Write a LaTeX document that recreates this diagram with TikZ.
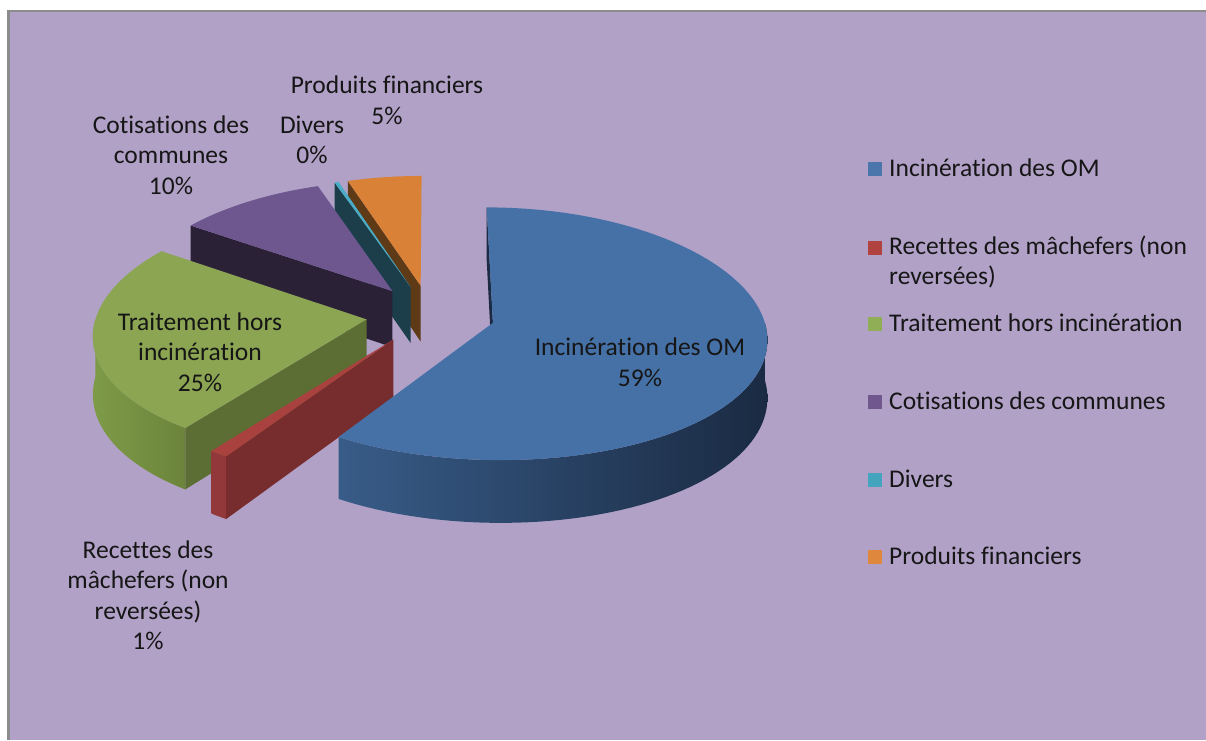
\documentclass[tikz,border=0pt]{standalone}
\usepackage{fontspec}
\setmainfont{Carlito}
\newcommand{\nk}{\kern0pt}% breaks font ligatures (ti, tt, fi)
\definecolor{bg}{HTML}{B1A1C7}
\definecolor{frame}{HTML}{8C8C8C}
\definecolor{txt}{HTML}{161616}
\definecolor{bluetop}{HTML}{4571A7}
\definecolor{bluewallL}{HTML}{385C88}
\definecolor{bluewallR}{HTML}{1A2A42}
\definecolor{blueface}{HTML}{1C2B43}
\definecolor{greentop}{HTML}{8BA553}
\definecolor{greenface}{HTML}{5C6E33}
\definecolor{greenwallL}{HTML}{7E9B48}
\definecolor{greenwallR}{HTML}{6B843B}
\definecolor{redtop}{HTML}{A9423F}
\definecolor{redface}{HTML}{772D2D}
\definecolor{redwall}{HTML}{93383A}
\definecolor{purptop}{HTML}{6E568F}
\definecolor{purpface}{HTML}{2B2137}
\definecolor{divtop}{HTML}{4AACC6}
\definecolor{divface}{HTML}{1B3E4A}
\definecolor{orgtop}{HTML}{DA8138}
\definecolor{orgface}{HTML}{5E3A17}
\definecolor{legblue}{HTML}{4A76AC}
\definecolor{legred}{HTML}{B0423F}
\definecolor{leggreen}{HTML}{8FAE55}
\definecolor{legpurp}{HTML}{70588F}
\definecolor{legdiv}{HTML}{45A4BD}
\definecolor{legorg}{HTML}{E0873E}
% slice helpers
\newcommand{\setslice}[1]{%
  \pgfmathsetmacro{\ox}{0.239*cos(#1)}%
  \pgfmathsetmacro{\oy}{0.239*sin(#1)}}
\newcommand{\topface}[3]{%
  \fill[#3] ({PX(\ox,\oy)},{PY(\ox,\oy,0)}) --
    plot[domain=#1:#2,samples=70,variable=\t]
      ({PX(\ox+cos(\t),\oy+sin(\t))},{PY(\ox+cos(\t),\oy+sin(\t),0)}) -- cycle;}
\newcommand{\radface}[2]{%
  \fill[#2] ({PX(\ox,\oy)},{PY(\ox,\oy,0)}) --
    ({PX(\ox+cos(#1),\oy+sin(#1))},{PY(\ox+cos(#1),\oy+sin(#1),0)}) --
    ({PX(\ox+cos(#1),\oy+sin(#1))},{PY(\ox+cos(#1),\oy+sin(#1),1)}) --
    ({PX(\ox,\oy)},{PY(\ox,\oy,1)}) -- cycle;}
\newcommand{\outerwall}[3]{%
  \shade[#3] plot[domain=#1:#2,samples=60,variable=\t]
      ({PX(\ox+cos(\t),\oy+sin(\t))},{PY(\ox+cos(\t),\oy+sin(\t),0)}) --
    plot[domain=#2:#1,samples=60,variable=\t]
      ({PX(\ox+cos(\t),\oy+sin(\t))},{PY(\ox+cos(\t),\oy+sin(\t),1)}) -- cycle;}
\begin{document}
\begin{tikzpicture}[x=1pt,y=-1pt,
  declare function={PX(\pa,\pb)=430.5+270*\pa/(1+0.11*\pb);
                    PY(\pa,\pb,\pc)=314.5+(-124*\pb+57*\pc)/(1+0.086*\pb);},
  lbl/.style={font=\fontsize{25.5}{30.5}\selectfont, text=txt, align=center, inner sep=0pt},
  leg/.style={font=\fontsize{25.5}{30.5}\selectfont, text=txt, align=left, inner sep=0pt, anchor=west},
  legsq/.style={minimum size=14pt, inner sep=0pt, draw=none}]
\useasboundingbox (0,0) rectangle (1206,740);
\fill[white] (0,0) rectangle (1206,740);
\fill[bg] (8,10) rectangle (1206,740);
\draw[frame, line width=2.5pt] (8.5,740) -- (8.5,11) -- (1206,11);

% orange : Produits financiers
\setslice{99}
\radface{108}{orgface}
\topface{90}{108}{orgtop}
% divers
\setslice{108.5}
\radface{109}{divface}
\topface{108}{109}{divtop}
% purple : Cotisations des communes
\setslice{127}
\radface{145}{purpface}
\topface{109}{145}{purptop}
% green : Traitement hors incineration
\setslice{189.5}
\outerwall{180}{234}{left color=greenwallL,right color=greenwallR}
\radface{234}{greenface}
\topface{145}{234}{greentop}
% red : Recettes des machefers
\setslice{235.8}
\outerwall{234}{237.6}{left color=redwall,right color=redwall}
\radface{237.6}{redface}
\topface{234}{237.6}{redtop}
% blue : Incineration des OM
\setslice{343.8}
\outerwall{237.6}{360}{left color=bluewallL,right color=bluewallR}
\radface{450}{blueface}
\topface{237.6}{450}{bluetop}

% data labels
\node[lbl] (lblProd) at (387,100) {Produits f\nk inanciers\\5\%};
\node[lbl] (lblDiv) at (312,140) {Divers\\0\%};
\node[lbl] (lblCot) at (171,155) {Cot\nk isat\nk ions des\\communes\\10\%};
\node[lbl] (lblTrait) at (200,352) {Traitement hors\\incinérat\nk ion\\25\%};
\node[lbl] (lblInc) at (640,362) {Incinérat\nk ion des OM\\59\%};
\node[lbl] (lblRec) at (148,595) {Recet\nk tes des\\mâchefers (non\\reversées)\\1\%};

% legend
\node[legsq, fill=legblue] (sq1) at (875,169) {};
\node[leg] (lg1) at (889,168) {Incinérat\nk ion des OM};
\node[legsq, fill=legred] (sq2) at (875,248) {};
\node[leg] (lg2) at (889,262) {Recet\nk tes des mâchefers (non\\reversées)};
\node[legsq, fill=leggreen] (sq3) at (875,324) {};
\node[leg] (lg3) at (889,323) {Traitement hors incinérat\nk ion};
\node[legsq, fill=legpurp] (sq4) at (875,402) {};
\node[leg] (lg4) at (889,401) {Cot\nk isat\nk ions des communes};
\node[legsq, fill=legdiv] (sq5) at (875,480) {};
\node[leg] (lg5) at (889,479) {Divers};
\node[legsq, fill=legorg] (sq6) at (875,557) {};
\node[leg] (lg6) at (889,556) {Produits f\nk inanciers};
\end{tikzpicture}
\end{document}
